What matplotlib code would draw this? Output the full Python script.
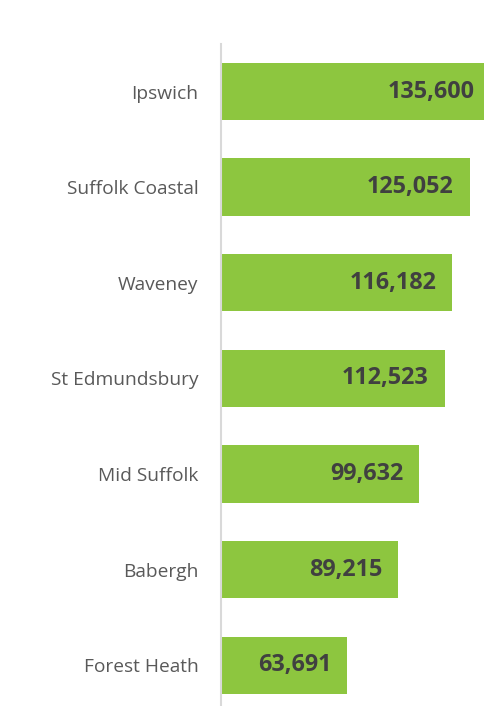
import matplotlib
matplotlib.use("Agg")
import matplotlib.pyplot as plt

districts = ["Ipswich", "Suffolk Coastal", "Waveney", "St Edmundsbury",
             "Mid Suffolk", "Babergh", "Forest Heath"]
population = [135600, 125052, 116182, 112523, 99632, 89215, 63691]

W, H = 484, 706
fig = plt.figure(figsize=(W / 100, H / 100), dpi=100)
left = 220.5 / W
top = 43.7
bottom = 713.0
ax = fig.add_axes([left, 1 - bottom / H, 1 - left, (bottom - top) / H])

ypos = list(range(len(districts)))
bars = ax.barh(ypos, population, height=0.6, color="#8DC63F", zorder=2)
ax.set_ylim(len(districts) - 0.5, -0.5)
ax.set_xlim(0, 132150)

for y, v in zip(ypos, population):
    ax.annotate(f"{v:,}", xy=(v, y), xytext=(-11.5, 0), textcoords="offset points",
                ha="right", va="center", fontsize=16.8, fontweight="bold",
                color="#404040", family="Open Sans", annotation_clip=False,
                clip_on=False)

ax.set_yticks(ypos)
ax.set_yticklabels(districts, fontsize=13.8, color="#595959", family="Open Sans")
ax.tick_params(axis="y", length=0, pad=16)
ax.set_xticks([])
for s in ["top", "right", "bottom"]:
    ax.spines[s].set_visible(False)
ax.spines["left"].set_color("#D9D9D9")
ax.spines["left"].set_linewidth(1.5)

fig.savefig("out.png", dpi=100)
